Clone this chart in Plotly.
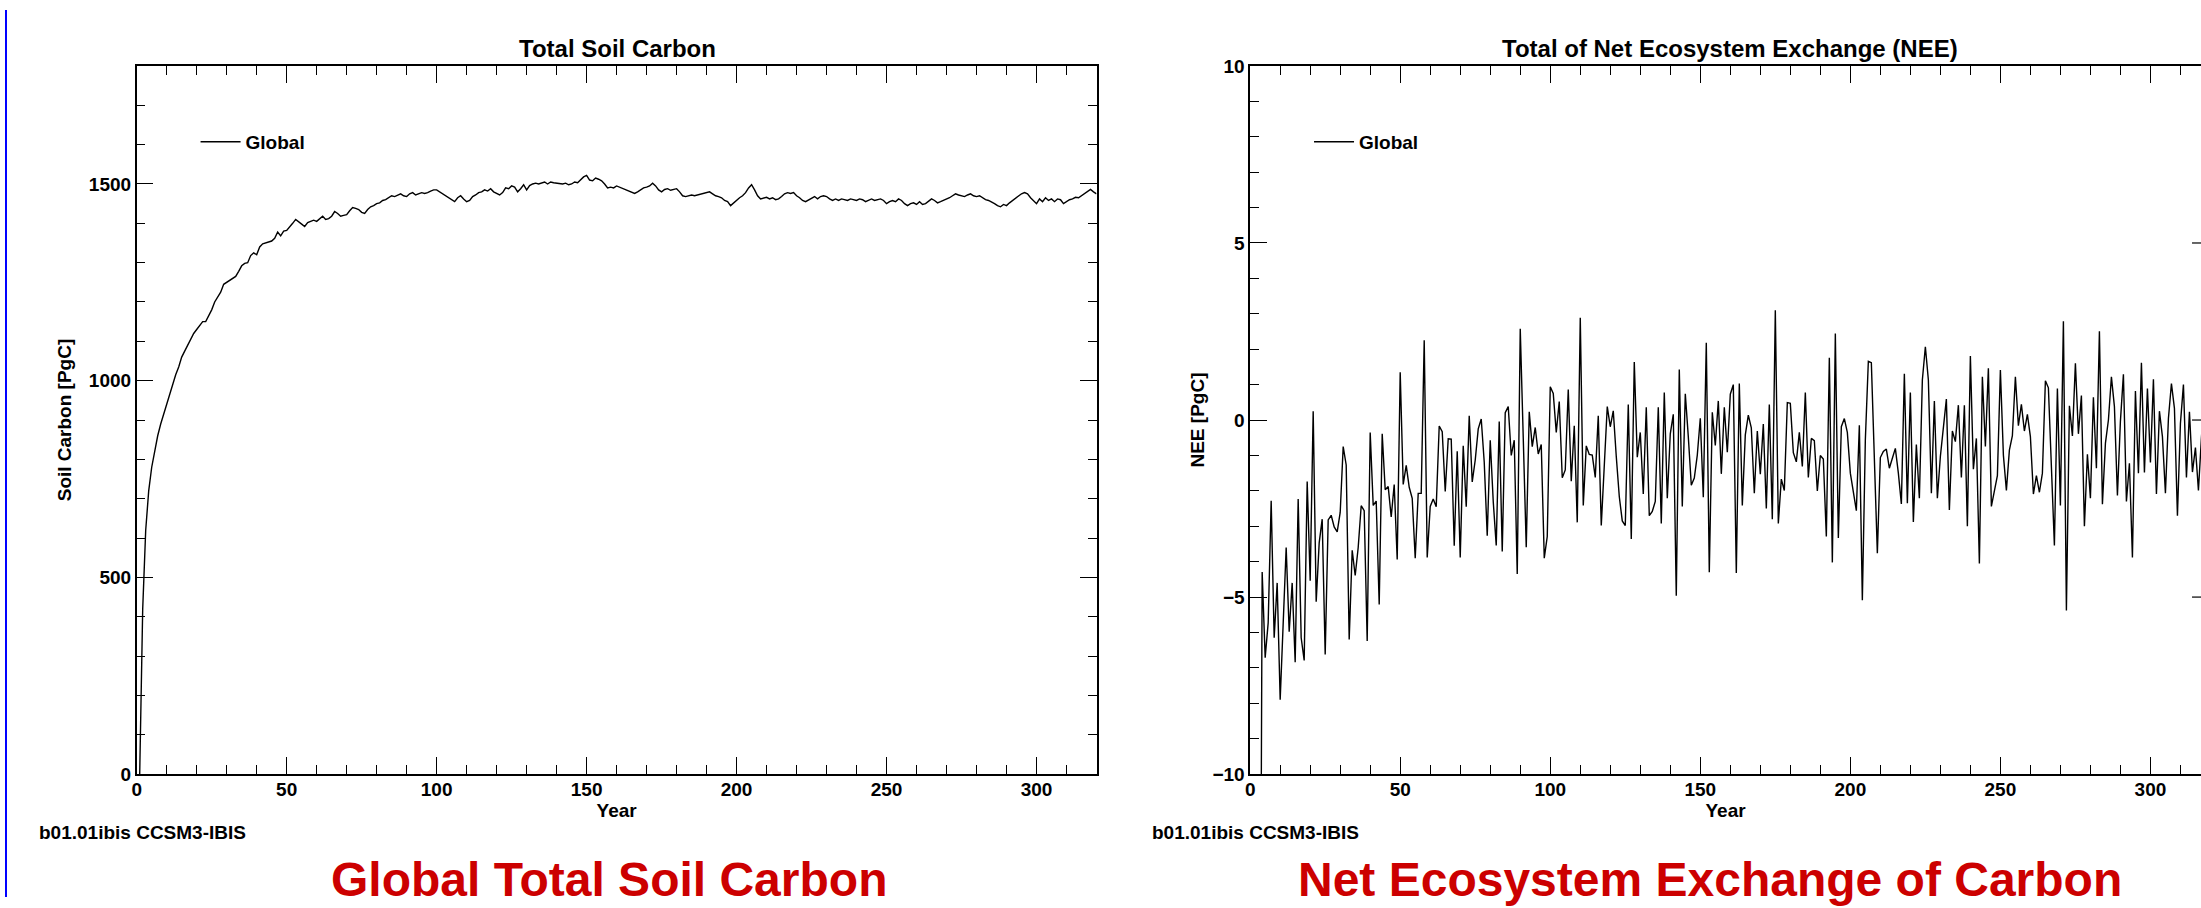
import plotly.graph_objects as go

# ---------------- data ----------------
years = list(range(1, 321))

soil_carbon = [
    0, 420, 620, 720, 780, 825, 860, 890, 915, 945,
    970, 995, 1015, 1035, 1060, 1075, 1090, 1105, 1120, 1130,
    1140, 1150, 1150, 1165, 1180, 1200, 1212, 1225, 1245, 1250,
    1255, 1258, 1265, 1278, 1292, 1298, 1300, 1318, 1325, 1320,
    1340, 1348, 1350, 1352, 1355, 1362, 1378, 1368, 1380, 1382,
    1390, 1400, 1410, 1405, 1398, 1392, 1402, 1405, 1408, 1405,
    1412, 1418, 1410, 1412, 1418, 1430, 1425, 1418, 1420, 1422,
    1432, 1440, 1438, 1435, 1428, 1425, 1435, 1442, 1445, 1450,
    1452, 1458, 1460, 1465, 1470, 1468, 1472, 1475, 1470, 1468,
    1475, 1478, 1472, 1475, 1478, 1476, 1478, 1482, 1485, 1485,
    1480, 1475, 1470, 1465, 1462, 1455, 1465, 1470, 1462, 1455,
    1458, 1468, 1472, 1478, 1480, 1485, 1482, 1488, 1480, 1476,
    1472, 1478, 1490, 1488, 1495, 1492, 1480, 1488, 1498, 1485,
    1496, 1500, 1502, 1500, 1502, 1505, 1500, 1505, 1503, 1502,
    1500, 1500, 1502, 1498, 1500, 1505, 1503, 1510, 1518, 1522,
    1510, 1508, 1515, 1512, 1508, 1500, 1490, 1492, 1490, 1495,
    1492, 1488, 1485, 1484, 1480, 1476, 1480, 1486, 1490, 1492,
    1495, 1502, 1495, 1485, 1480, 1486, 1488, 1484, 1486, 1488,
    1480, 1470, 1468, 1470, 1472, 1470, 1472, 1474, 1476, 1478,
    1480, 1475, 1470, 1468, 1465, 1458, 1455, 1445, 1452, 1460,
    1465, 1470, 1478, 1490, 1498, 1485, 1470, 1462, 1465, 1466,
    1462, 1465, 1460, 1462, 1468, 1475, 1478, 1476, 1478, 1470,
    1465, 1458, 1455, 1460, 1465, 1468, 1462, 1468, 1470, 1468,
    1462, 1458, 1462, 1458, 1462, 1460, 1458, 1462, 1460, 1458,
    1462, 1460, 1455, 1458, 1462, 1458, 1460, 1462, 1458, 1450,
    1455, 1458, 1455, 1462, 1458, 1450, 1445, 1450, 1452, 1448,
    1455, 1448, 1450, 1456, 1462, 1458, 1452, 1455, 1458, 1462,
    1465, 1470, 1475, 1472, 1470, 1468, 1472, 1475, 1470, 1468,
    1470, 1465, 1460, 1458, 1455, 1450, 1445, 1442, 1448, 1445,
    1452, 1458, 1462, 1470, 1475, 1478, 1475, 1465, 1458, 1450,
    1462, 1455, 1465, 1458, 1462, 1455, 1462, 1460, 1450, 1455,
    1460, 1462, 1466, 1465, 1470, 1475, 1482, 1486, 1480, 1475,
]

nee = [
    -35, -30, -25, -4.29, -6.71, -5.73, -2.28, -6.15, -4.6, -7.9,
    -5.7, -3.6, -5.98, -4.6, -6.84, -2.23, -6.15, -6.79, -1.74, -4.54,
    0.25, -5.13, -3.47, -2.8, -6.62, -2.82, -2.69, -3.02, -3.16, -2.61,
    -0.75, -1.27, -6.2, -3.68, -4.39, -3.6, -2.42, -2.56, -6.24, -0.35,
    -2.41, -2.29, -5.21, -0.39, -1.97, -1.88, -2.74, -1.82, -3.94, 1.35,
    -1.82, -1.28, -1.9, -2.21, -3.9, -2.07, -2.07, 2.25, -3.88, -2.44,
    -2.23, -2.45, -0.17, -0.33, -2.02, -0.53, -0.54, -3.55, -0.88, -3.88,
    -0.73, -2.45, 0.12, -1.75, -1.13, -0.25, 0.03, -1.19, -3.27, -0.57,
    -2.3, -3.54, -0.04, -3.71, 0.21, 0.38, -1.0, -0.57, -4.35, 2.58,
    -0.5, -3.59, 0.23, -0.75, -0.21, -0.96, -0.69, -3.9, -3.29, 0.94,
    0.75, -0.35, 0.52, -1.63, -1.41, 0.86, -1.73, -0.16, -2.89, 2.89,
    -2.41, -0.73, -0.97, -0.99, -1.62, 0.12, -2.98, -1.31, 0.38, -0.19,
    0.26, -1.03, -2.16, -2.85, -2.98, 0.44, -3.36, 1.64, -1.05, -0.35,
    -2.09, 0.36, -2.7, -2.58, -2.3, 0.36, -2.92, 0.78, -2.21, -0.39,
    0.16, -4.96, 1.43, -2.44, 0.74, -0.47, -1.84, -1.64, -0.99, 0.05,
    -2.18, 2.18, -4.3, 0.22, -0.72, 0.54, -1.52, 0.36, -0.91, 0.73,
    1.0, -4.32, 1.03, -2.41, -0.42, 0.14, -0.22, -2.07, -0.31, -1.53,
    -0.11, -2.5, 0.44, -2.8, 3.1, -2.92, -1.67, -1.99, 0.49, 0.47,
    -0.92, -1.18, -0.35, -1.31, 0.78, -1.62, -0.52, -0.58, -2.0, -1.0,
    -1.1, -3.29, 1.76, -4.02, 2.44, -3.33, -0.19, 0.04, -0.35, -1.5,
    -2.07, -2.56, -0.15, -5.09, -0.56, 1.66, 1.62, -1.03, -3.76, -1.06,
    -0.89, -0.82, -1.36, -1.08, -0.8, -1.5, -2.37, 1.31, -2.35, 0.78,
    -2.88, -0.69, -2.21, 1.13, 2.07, 1.13, -2.07, 0.54, -2.21, -1.03,
    -0.19, 0.59, -2.54, -0.31, -0.61, 0.42, -1.62, 0.42, -3.0, 1.81,
    -1.39, -0.52, -4.05, 1.22, -0.75, 1.46, -2.44, -2.0, -1.57, 1.41,
    -0.99, -1.99, -0.85, -0.44, 1.22, -0.16, 0.44, -0.31, 0.16, -0.47,
    -2.09, -1.57, -2.04, -1.5, 1.11, 0.91, -1.6, -3.54, 0.89, -2.41,
    2.79, -5.38, 0.4, -0.45, 1.6, -0.39, 0.69, -3.0, -0.97, -2.21,
    0.64, -1.36, 2.51, -2.38, -0.66, 0.0, 1.22, 0.38, -2.13, -0.03,
    1.29, -2.3, -1.22, -3.88, 0.82, -1.5, 1.62, -1.48, 0.89, -1.2,
    1.15, -2.09, 0.25, -0.47, -2.07, 0.05, 1.03, 0.33, -2.7, -0.09,
    1.0, -1.62, 0.23, -1.47, -0.78, -1.99, -0.5, 0.8, -1.2, 0.3,
]

soil_yticks = [0, 500, 1000, 1500]
nee_yticks = [-10, -5, 0, 5, 10]
year_ticks = [0, 50, 100, 150, 200, 250, 300]
series_name = "Global"
footer_text = "b01.01ibis CCSM3-IBIS"

# ---------------- styling ----------------
W, H = 2201, 908
FONT = "Liberation Sans, Arial, Helvetica, sans-serif"
RED = "#CC0000"
DX, DY, SY = 3.0, 9.0, 0.978   # compensation for the page capture


def fx(p):
    return max(p - DX, 0.0) / W


def fy(p):
    return 1 - ((p - DY) / SY) / H


fig = go.Figure()

fig.add_trace(go.Scatter(
    x=years, y=soil_carbon, mode="lines", name=series_name,
    line=dict(color="black", width=1.4), xaxis="x", yaxis="y",
    legend="legend",
))
fig.add_trace(go.Scatter(
    x=years, y=nee, mode="lines", name=series_name,
    line=dict(color="black", width=1.4), xaxis="x2", yaxis="y2",
    legend="legend2",
))

tickfont = dict(family=FONT, size=19, color="black", weight="bold")
titlefont = dict(family=FONT, size=19, color="black", weight="bold")

common_axis = dict(
    showgrid=False, zeroline=False, showline=True, linecolor="black",
    linewidth=1.5, ticks="inside", ticklen=17, tickwidth=1.2,
    tickcolor="black", tickfont=tickfont,
)

y_dom = [fy(774), fy(65)]
legend_font = dict(family=FONT, size=19, color="black", weight="bold")
right_x0 = 1251
right_span = (W + DX) - right_x0          # pixels of panel up to page edge

fig.update_layout(
    width=W, height=H, autosize=False,
    margin=dict(l=0, r=0, t=0, b=0),
    paper_bgcolor="white", plot_bgcolor="white",
    font=dict(family=FONT, color="black"),
    xaxis=dict(
        domain=[fx(135), fx(1097)], range=[0, 320], anchor="y",
        tickvals=year_ticks, mirror="ticks", ticklabelstandoff=-3,
        minor=dict(dtick=10, tick0=0, ticks="inside", ticklen=9,
                   tickwidth=1.1, tickcolor="black"),
        title=dict(text="Year", font=titlefont, standoff=0),
        **common_axis,
    ),
    yaxis=dict(
        domain=y_dom, range=[0, 1800], anchor="x",
        tickvals=soil_yticks, mirror="ticks",
        minor=dict(dtick=100, tick0=0, ticks="inside", ticklen=9,
                   tickwidth=1.1, tickcolor="black"),
        title=dict(text="Soil Carbon [PgC]", font=titlefont, standoff=12),
        **common_axis,
    ),
    xaxis2=dict(
        domain=[fx(right_x0), 1.0], range=[0, right_span / 3.0077],
        anchor="y2", tickvals=year_ticks, mirror="ticks",
        ticklabelstandoff=-3,
        minor=dict(dtick=10, tick0=0, ticks="inside", ticklen=9,
                   tickwidth=1.1, tickcolor="black"),
        title=dict(text="Year", font=titlefont, standoff=0),
        **common_axis,
    ),
    yaxis2=dict(
        domain=y_dom, range=[-10, 10], anchor="x2",
        tickvals=nee_yticks, mirror=False,
        minor=dict(dtick=1, tick0=0, ticks="inside", ticklen=9,
                   tickwidth=1.1, tickcolor="black"),
        title=dict(text="NEE [PgC]", font=titlefont, standoff=3),
        **common_axis,
    ),
    legend=dict(
        x=191 / W, y=fy(141), xanchor="left",
        yanchor="middle", bgcolor="rgba(0,0,0,0)", borderwidth=0,
        itemwidth=40, font=legend_font,
    ),
    legend2=dict(
        x=1307 / W, y=fy(141), xanchor="left", yanchor="middle",
        bgcolor="rgba(0,0,0,0)", borderwidth=0, itemwidth=40,
        font=legend_font,
    ),
    showlegend=True,
)

annotations = [
    dict(text="Total Soil Carbon", x=fx(617), y=fy(48),
         font=dict(family=FONT, size=24, color="black", weight="bold")),
    dict(text="Total of Net Ecosystem Exchange (NEE)", x=fx(1732), y=fy(48),
         font=dict(family=FONT, size=24, color="black", weight="bold")),
    dict(text=footer_text, x=fx(35), y=fy(832), xanchor="left",
         font=dict(family=FONT, size=19, color="black", weight="bold")),
    dict(text=footer_text, x=fx(1151), y=fy(832), xanchor="left",
         font=dict(family=FONT, size=19, color="black", weight="bold")),
    dict(text="Global Total Soil Carbon", x=fx(608), y=fy(880),
         font=dict(family=FONT, size=48, color=RED, weight="bold")),
    dict(text="Net Ecosystem Exchange of Carbon", x=fx(1712), y=fy(880),
         font=dict(family=FONT, size=48, color=RED, weight="bold")),
]
for a in annotations:
    a.update(xref="paper", yref="paper", showarrow=False,
             xanchor=a.get("xanchor", "center"), yanchor="middle")
fig.update_layout(annotations=annotations)

shapes = [
    # blue border line at the left edge of the page
    dict(type="rect", xref="paper", yref="paper", x0=0, x1=2 / W,
         y0=0, y1=1, fillcolor="#0000FF", line=dict(width=0)),
]
# stubs of the (off-page) right axis major ticks of the NEE panel
for v in nee_yticks[1:-1]:
    shapes.append(dict(type="line", xref="paper", yref="y2",
                       x0=fx(2195), x1=1.0, y0=v, y1=v,
                       line=dict(color="black", width=1.2)))
fig.update_layout(shapes=shapes)

fig.write_html(
    "out.html",
    config={"displayModeBar": False},
    post_script="document.body.style.margin='0';"
                "document.body.style.overflow='hidden';",
)
